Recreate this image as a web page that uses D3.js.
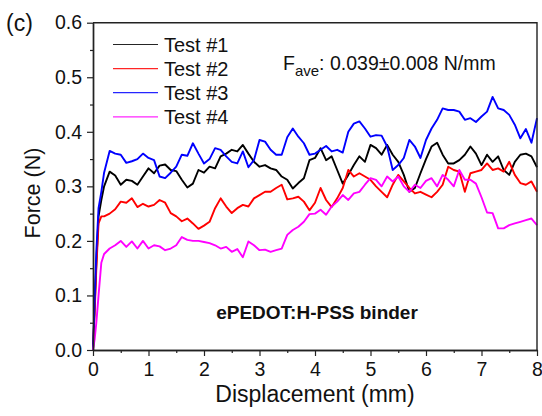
<!DOCTYPE html>
<html><head><meta charset="utf-8">
<script src="https://cdn.jsdelivr.net/npm/d3@7"></script>
<style>
body{margin:0;background:#fff}
svg{display:block}
text{font-family:"Liberation Sans",Arial,Helvetica,sans-serif;fill:#111}
</style>
</head><body>
<svg id="chart" width="542" height="416"></svg>
<script>
// ---------- data ----------
const displacement = [0,0.03,0.06,0.1,0.15,0.2,
 0.3,0.4,0.5,0.6,0.7,0.8,0.9,1.0,1.1,1.2,1.3,1.4,1.5,1.6,1.7,1.8,1.9,2.0,
 2.1,2.2,2.3,2.4,2.5,2.6,2.7,2.8,2.9,3.0,
 3.1,3.2,3.3,3.4,3.5,3.6,3.7,3.8,3.9,4.0,
 4.1,4.2,4.3,4.4,4.5,4.6,4.7,4.8,4.9,5.0,
 5.1,5.2,5.3,5.4,5.5,5.6,5.7,5.8,5.9,6.0,
 6.1,6.2,6.3,6.4,6.5,6.6,6.7,6.8,6.9,7.0,
 7.1,7.2,7.3,7.4,7.5,7.6,7.7,7.8,7.9,8.0];

const test1 = [0,0.08,0.16,0.245,0.275,0.30,
 0.327,0.32,0.303,0.312,0.31,0.303,0.318,0.333,0.324,0.338,0.34,0.33,0.328,0.312,0.298,0.305,0.33,0.325,
 0.336,0.333,0.355,0.36,0.367,0.364,0.376,0.36,0.345,0.336,
 0.339,0.333,0.33,0.318,0.312,0.296,0.306,0.315,0.348,0.352,
 0.37,0.348,0.355,0.33,0.305,0.321,0.339,0.355,0.345,0.376,
 0.37,0.358,0.376,0.358,0.345,0.321,0.29,0.297,0.324,0.35,
 0.373,0.38,0.358,0.342,0.342,0.348,0.358,0.373,0.36,0.339,
 0.358,0.345,0.355,0.33,0.321,0.345,0.358,0.36,0.355,0.335];

const test2 = [0,0.07,0.15,0.232,0.245,0.245,
 0.25,0.258,0.272,0.27,0.278,0.262,0.268,0.263,0.266,0.275,0.27,0.251,0.245,0.236,0.241,0.232,0.222,0.228,
 0.235,0.26,0.278,0.263,0.251,0.26,0.266,0.263,0.278,0.284,
 0.29,0.29,0.297,0.303,0.276,0.278,0.281,0.272,0.256,0.27,
 0.297,0.275,0.262,0.278,0.297,0.33,0.318,0.324,0.318,0.312,
 0.30,0.29,0.28,0.303,0.321,0.309,0.297,0.287,0.29,0.285,
 0.28,0.29,0.303,0.336,0.33,0.327,0.29,0.324,0.327,0.33,
 0.342,0.33,0.333,0.327,0.345,0.321,0.306,0.303,0.309,0.29];

const test3 = [0,0.09,0.18,0.26,0.29,0.325,
 0.365,0.36,0.358,0.343,0.346,0.35,0.36,0.352,0.348,0.318,0.315,0.325,0.336,0.358,0.356,0.379,0.36,0.342,
 0.35,0.37,0.367,0.355,0.345,0.342,0.364,0.335,0.348,0.385,
 0.382,0.367,0.358,0.358,0.39,0.406,0.391,0.379,0.358,0.36,
 0.367,0.374,0.364,0.367,0.362,0.40,0.415,0.419,0.406,0.391,
 0.394,0.393,0.373,0.33,0.339,0.352,0.385,0.373,0.352,0.385,
 0.406,0.422,0.443,0.44,0.44,0.437,0.422,0.425,0.418,0.428,
 0.437,0.464,0.443,0.44,0.431,0.413,0.388,0.405,0.38,0.425];

const test4 = [0,0.02,0.05,0.10,0.16,0.176,
 0.186,0.192,0.20,0.189,0.199,0.186,0.20,0.186,0.192,0.19,0.183,0.186,0.192,0.207,0.202,0.20,0.20,0.198,
 0.196,0.192,0.186,0.189,0.18,0.185,0.17,0.199,0.192,0.183,
 0.184,0.18,0.183,0.186,0.211,0.22,0.226,0.235,0.249,0.25,
 0.257,0.248,0.263,0.272,0.284,0.275,0.287,0.29,0.303,0.315,
 0.312,0.30,0.318,0.309,0.318,0.30,0.29,0.303,0.297,0.31,
 0.315,0.30,0.321,0.312,0.30,0.33,0.312,0.312,0.305,0.28,
 0.252,0.251,0.223,0.223,0.229,0.232,0.235,0.238,0.241,0.229];

const seriesNames = ["Test #1","Test #2","Test #3","Test #4"];
const seriesValues = [test1,test2,test3,test4];
const seriesColors = ["#000000","#ff0000","#0000ff","#ff00ff"];
const xTicks = [0,1,2,3,4,5,6,7,8];
const xMinorTicks = [0.5,1.5,2.5,3.5,4.5,5.5,6.5,7.5];
const yTicks = [0,0.1,0.2,0.3,0.4,0.5,0.6];
const yMinorTicks = [0.05,0.15,0.25,0.35,0.45,0.55];

// ---------- layout ----------
const svg = d3.select("#chart");
const L=93, R=537, T=22.7, B=350;
const x = d3.scaleLinear().domain([0,8]).range([L,R]);
const y = d3.scaleLinear().domain([0,0.6]).range([B,T]);
const FONT = '"Liberation Sans",Arial,sans-serif';

// curves
const line = d3.line().x(d=>x(d[0])).y(d=>y(d[1]));
seriesValues.forEach((vals,i)=>{
  svg.append("path")
    .datum(displacement.map((d,j)=>[d,vals[j]]))
    .attr("d",line)
    .attr("fill","none")
    .attr("stroke",seriesColors[i])
    .attr("stroke-width",1.9)
    .attr("stroke-linejoin","round");
});

// frame (top + right)
svg.append("path")
  .attr("d",`M${L},${T}H${R}V${B}`)
  .attr("fill","none").attr("stroke","#222").attr("stroke-width",1.4);

// x axis
const gx = svg.append("g").attr("transform",`translate(0,${B})`)
  .call(d3.axisBottom(x).tickValues(xTicks).tickFormat(d3.format("d")).tickSize(6).tickSizeOuter(0).tickPadding(4));
const gxm = svg.append("g").attr("transform",`translate(0,${B})`)
  .call(d3.axisBottom(x).tickValues(xMinorTicks).tickFormat("").tickSize(3).tickSizeOuter(0));
// y axis
const gy = svg.append("g").attr("transform",`translate(${L},0)`)
  .call(d3.axisLeft(y).tickValues(yTicks).tickFormat(d3.format(".1f")).tickSize(6).tickSizeOuter(0).tickPadding(5));
const gym = svg.append("g").attr("transform",`translate(${L},0)`)
  .call(d3.axisLeft(y).tickValues(yMinorTicks).tickFormat("").tickSize(3).tickSizeOuter(0));
[gx,gxm,gy,gym].forEach(g=>{
  g.select(".domain").attr("stroke","#222").attr("stroke-width",1.4);
  g.selectAll(".tick line").attr("stroke","#222").attr("stroke-width",1.2);
  g.selectAll("text").attr("font-family",FONT).attr("font-size",19.5).attr("fill","#111");
});
gx.selectAll(".tick text").attr("dy","0.82em");

// axis titles
svg.append("text").attr("x",(L+R)/2).attr("y",402).attr("text-anchor","middle")
  .attr("font-size",23).text("Displacement (mm)");
svg.append("text").attr("transform",`translate(40,193) rotate(-90)`).attr("text-anchor","middle")
  .attr("font-size",21.5).text("Force (N)");

// panel label
svg.append("text").attr("x",6).attr("y",31).attr("font-size",23).text("(c)");

// legend
seriesNames.forEach((n,i)=>{
  const ly = 44.5 + i*24.1;
  svg.append("line").attr("x1",113).attr("x2",158).attr("y1",ly).attr("y2",ly)
    .attr("stroke",seriesColors[i]).attr("stroke-width",1.2).attr("opacity",0.85);
  svg.append("text").attr("x",164).attr("y",ly+7).attr("font-size",20).text(n);
});

// annotation
const ann = svg.append("text").attr("x",283).attr("y",70).attr("font-size",19.5);
ann.append("tspan").text("F");
ann.append("tspan").attr("dy",6).attr("font-size",15).text("ave");
ann.append("tspan").attr("dy",-6).text(": 0.039\u00B10.008 N/mm");

svg.append("text").attr("x",317).attr("y",319).attr("text-anchor","middle")
  .attr("font-size",19).attr("font-weight","bold").text("ePEDOT:H-PSS binder");
</script>
</body></html>
